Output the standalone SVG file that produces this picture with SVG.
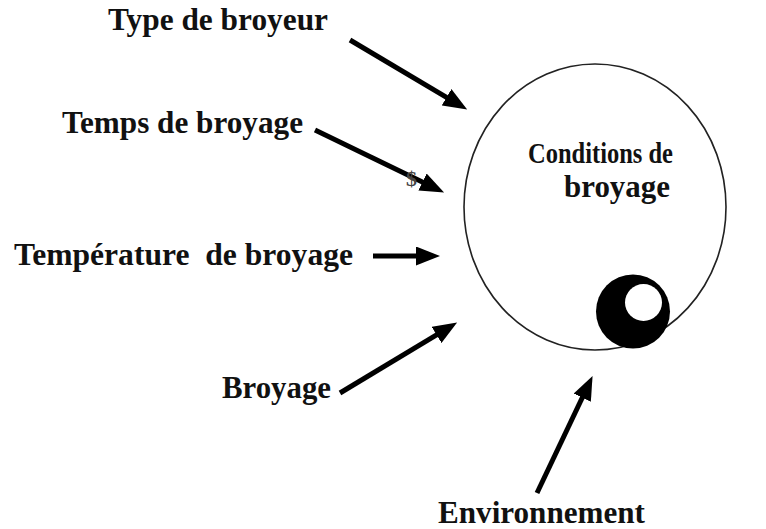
<svg xmlns="http://www.w3.org/2000/svg" width="766" height="529" viewBox="0 0 766 529">
<style>
.lbl{font-family:"Liberation Serif","Times New Roman",serif;font-weight:bold;font-size:31.5px;fill:#111;white-space:pre}
.conn{stroke:#000;stroke-width:5;fill:none;marker-end:url(#ah)}
</style>
<defs>
<marker id="ah" viewBox="0 0 24 19" markerWidth="24" markerHeight="19" refX="1" refY="9.5" orient="auto" markerUnits="userSpaceOnUse">
<path d="M0,0 L24,9.5 L0,19 z" fill="#000"/>
</marker>
</defs>
<rect width="766" height="529" fill="#fff"/>
<g id="conditions">
<ellipse cx="595" cy="207" rx="131" ry="143" fill="none" stroke="#222" stroke-width="1.6"/>
<circle cx="633" cy="311.5" r="37" fill="#000"/>
<circle cx="643.5" cy="302.5" r="18.5" fill="#fff"/>
<text class="lbl" x="528" y="163" style="font-size:29px" textLength="145" lengthAdjust="spacingAndGlyphs">Conditions de</text>
<text class="lbl" x="564" y="197" textLength="106" lengthAdjust="spacingAndGlyphs">broyage</text>
</g>
<g id="type"><text class="lbl" x="108" y="30" textLength="220" lengthAdjust="spacingAndGlyphs">Type de broyeur</text></g>
<g id="temps"><text class="lbl" x="62" y="133" textLength="241" lengthAdjust="spacingAndGlyphs">Temps de broyage</text></g>
<g id="temperature"><text class="lbl" x="14" y="265" textLength="339" lengthAdjust="spacingAndGlyphs" xml:space="preserve">Température  de broyage</text></g>
<g id="broyage"><text class="lbl" x="222" y="398" textLength="109" lengthAdjust="spacingAndGlyphs">Broyage</text></g>
<g id="environnement"><text class="lbl" x="438" y="523" textLength="207" lengthAdjust="spacingAndGlyphs">Environnement</text></g>
<g id="connectors">
<line class="conn" x1="350" y1="40" x2="447.4" y2="97.8"/>
<line class="conn" x1="315" y1="130" x2="423.4" y2="182.5"/>
<line class="conn" x1="373" y1="256" x2="417" y2="256"/>
<line class="conn" x1="340" y1="393" x2="437.4" y2="334.4"/>
<line class="conn" x1="537" y1="493" x2="582.7" y2="396.7"/>
</g>
<text x="406" y="186" style="font-family:'Liberation Serif',serif;font-weight:bold;font-size:22px;fill:#444">$</text>
</svg>
